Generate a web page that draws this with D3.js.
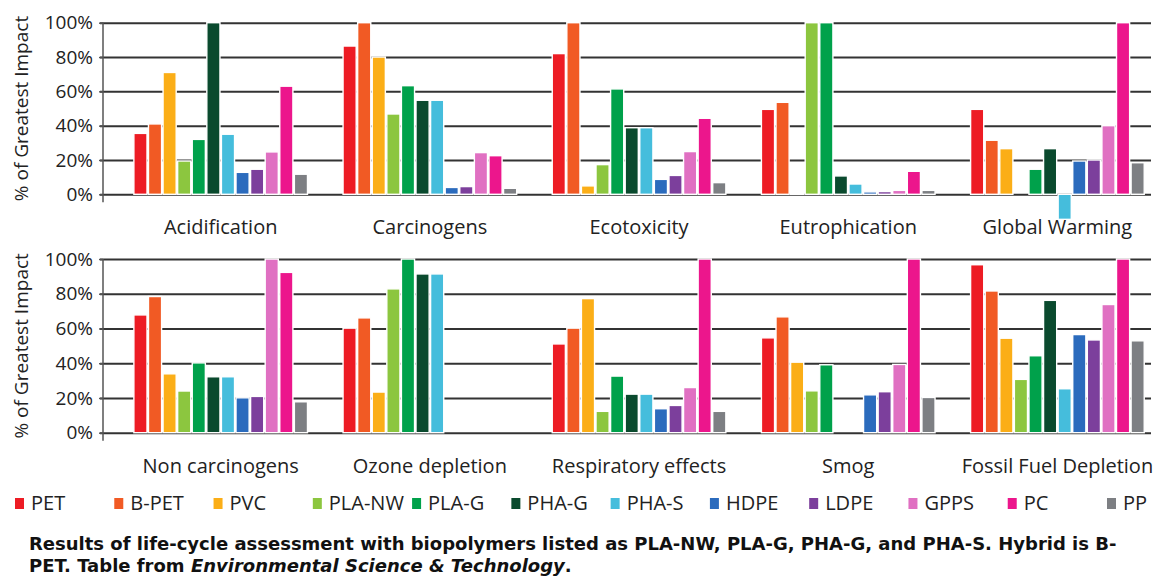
<!DOCTYPE html>
<meta charset="utf-8">

<style type="text/css">
    body { margin: 0; background: #fff; }
    svg text { font-family: "Open Sans", "DejaVu Sans", sans-serif; fill: #222; }
    .grid line { stroke: #333; stroke-width: 2; }
    .grid .domain { display: none; }
    .yaxis .domain { display: none; }
    .yaxis line { stroke: #555; stroke-width: 1.4; }
    .yaxis text { font-size: 19px; }
    .catlabel { font-size: 20px; text-anchor: middle; }
    .ytitle { font-size: 19px; text-anchor: middle; }
    .legend text { font-size: 20px; }
    .caption { font-family: "DejaVu Sans", Verdana, sans-serif; font-weight: bold; font-size: 18px; fill: #111; }
</style>

<body>
</body>

<script src="https://d3js.org/d3.v7.min.js"></script>
<script>
    // polymers and their colours (legend order)
    var polymers = ["PET", "B-PET", "PVC", "PLA-NW", "PLA-G", "PHA-G", "PHA-S", "HDPE", "LDPE", "GPPS", "PC", "PP"];
    var colors = ["#ed1c24", "#f15a24", "#fbae17", "#8cc63f", "#00a14b", "#0a4a2e",
                  "#45bddc", "#2b6bbd", "#7c3f9c", "#e070c2", "#ec168c", "#7d7f83"];

    // impact categories, one array per panel
    var topCategories = ["Acidification", "Carcinogens", "Ecotoxicity", "Eutrophication", "Global Warming"];
    var bottomCategories = ["Non carcinogens", "Ozone depletion", "Respiratory effects", "Smog", "Fossil Fuel Depletion"];

    // % of greatest impact, in polymer order
    var acidification = [35.5, 41, 71, 19.4, 32, 100, 35, 12.8, 14.6, 24.7, 63, 11.7];
    var carcinogens = [86.4, 100, 80, 46.8, 63.3, 54.8, 54.8, 4, 4.5, 24.3, 22.5, 3.5];
    var ecotoxicity = [82, 100, 4.9, 17.3, 61.4, 38.8, 38.8, 8.7, 11, 24.9, 44.3, 6.8];
    var eutrophication = [49.5, 53.6, 0.5, 100, 100, 10.7, 6, 1.4, 1.6, 2.3, 13.4, 2.3];
    var globalWarming = [49.5, 31.5, 26.6, 0, 14.6, 26.6, -14.6, 19.4, 20, 40, 100, 18.4];
    var nonCarcinogens = [67.8, 78.4, 33.9, 24, 40.2, 32.2, 32.2, 20.1, 20.9, 100, 92.3, 17.8];
    var ozoneDepletion = [60.2, 66.1, 23.4, 82.8, 100, 91.4, 91.4, 0, 0, 0, 0, 0];
    var respiratoryEffects = [51.1, 60.2, 77.2, 12.3, 32.6, 22.2, 22.2, 13.8, 15.7, 26, 100, 12.3];
    var smog = [54.6, 66.7, 40.6, 24.1, 39.1, 0, 0, 21.8, 23.6, 39.3, 100, 20.3];
    var fossilFuelDepletion = [96.7, 81.6, 54.4, 30.7, 44.3, 76.2, 25.3, 56.5, 53.4, 73.8, 100, 52.9];

    var yTicks = [0, 20, 40, 60, 80, 100];

    var topValues = [acidification, carcinogens, ecotoxicity, eutrophication, globalWarming];
    var bottomValues = [nonCarcinogens, ozoneDepletion, respiratoryEffects, smog, fossilFuelDepletion];

    var width = 1174, height = 579;
    var left = 103, right = 1151;

    var svg = d3.select("body").append("svg")
        .attr("width", width)
        .attr("height", height);

    var color = d3.scaleOrdinal().domain(polymers).range(colors);

    function drawPanel(categories, values, top, bottom) {
        var x = d3.scaleBand()
            .domain(categories)
            .range([left, right])
            .paddingInner(0.17)
            .paddingOuter(0.09)
            .align(0.82);

        var xInner = d3.scaleBand()
            .domain(polymers)
            .range([0, x.bandwidth()])
            .paddingInner(0.1);

        var y = d3.scaleLinear()
            .domain([0, 100])
            .range([bottom, top]);

        var g = svg.append("g");

        // gridlines
        g.append("g")
            .attr("class", "grid")
            .attr("transform", "translate(" + (left - 3) + ",0)")
            .call(d3.axisLeft(y).tickValues(yTicks).tickSize(-(right - left + 3)).tickFormat(""));

        // y axis with tick labels
        g.append("g")
            .attr("class", "yaxis")
            .attr("transform", "translate(" + left + ",0)")
            .call(d3.axisLeft(y).tickValues(yTicks).tickSize(4).tickPadding(6).tickFormat(function (d) { return d + "%"; }));

        g.append("line")
            .attr("x1", left).attr("x2", left)
            .attr("y1", y(100)).attr("y2", y(0) + 8)
            .attr("stroke", "#555")
            .attr("stroke-width", 1.5);

        g.append("text")
            .attr("class", "ytitle")
            .attr("transform", "translate(28," + (y(50)) + ") rotate(-90)")
            .text("% of Greatest Impact");

        // bar groups
        var groups = g.selectAll(".cat")
            .data(categories)
            .enter().append("g")
            .attr("class", "cat")
            .attr("transform", function (d) { return "translate(" + x(d) + ",0)"; });

        groups.selectAll("rect")
            .data(function (d, i) {
                return polymers.map(function (p, j) { return { polymer: p, value: values[i][j] }; })
                    .filter(function (e) { return e.value !== 0; });
            })
            .enter().append("rect")
            .attr("x", function (d) { return xInner(d.polymer); })
            .attr("width", xInner.bandwidth())
            .attr("y", function (d) { return y(Math.max(0, d.value)); })
            .attr("height", function (d) { return Math.abs(y(d.value) - y(0)); })
            .attr("fill", function (d) { return color(d.polymer); })
            .attr("stroke", "#fff")
            .attr("stroke-width", 1.4);

        groups.append("text")
            .attr("class", "catlabel")
            .attr("x", x.bandwidth() / 2)
            .attr("y", y(0) + 40)
            .text(function (d) { return d; });
    }

    drawPanel(topCategories, topValues, 22.7, 194.3);
    drawPanel(bottomCategories, bottomValues, 259, 432.7);

    // legend
    var lx = d3.scalePoint().domain(polymers).range([15, 1107]);
    var legend = svg.append("g").attr("class", "legend")
        .selectAll("g")
        .data(polymers)
        .enter().append("g")
        .attr("transform", function (d) { return "translate(" + lx(d) + ",498)"; });

    legend.append("rect")
        .attr("width", 9)
        .attr("height", 11)
        .attr("fill", function (d) { return color(d); });

    legend.append("text")
        .attr("x", 16)
        .attr("y", 12)
        .text(function (d) { return d; });

    // caption
    svg.append("text")
        .attr("class", "caption")
        .attr("x", 29)
        .attr("y", 550)
        .text("Results of life-cycle assessment with biopolymers listed as PLA-NW, PLA-G, PHA-G, and PHA-S. Hybrid is B-");

    var cap2 = svg.append("text")
        .attr("class", "caption")
        .attr("x", 29)
        .attr("y", 572);
    cap2.append("tspan").text("PET. Table from ");
    cap2.append("tspan").attr("font-style", "italic").text("Environmental Science & Technology");
    cap2.append("tspan").text(".");
</script>
